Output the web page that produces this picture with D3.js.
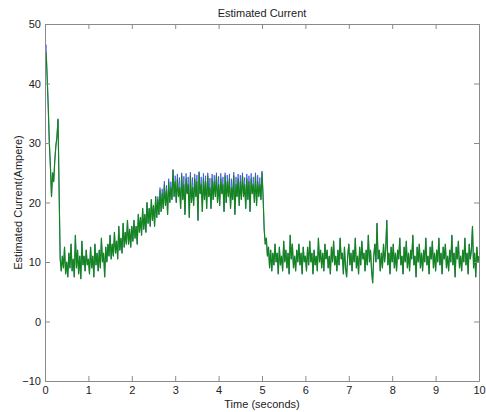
<!DOCTYPE html>
<html>
<head>
<meta charset="utf-8">
<script src="https://cdn.jsdelivr.net/npm/d3@7"></script>
<style>
  html, body { margin: 0; padding: 0; background: #fff; }
  svg { display: block; font-family: "Liberation Sans", Arial, sans-serif; }
  .axis path, .axis line { stroke: #8a8a8a; }
  .axis text { fill: #222; font-size: 11px; }
</style>
</head>
<body>
<svg id="chart" width="486" height="412"></svg>
<script>
// both traces are sampled every 0.025 s
var sampleStep = 0.025;

var xTicks = [0, 1, 2, 3, 4, 5, 6, 7, 8, 9, 10];
var yTicks = [-10, 0, 10, 20, 30, 40, 50];

// estimated current, green trace
var greenValues = [
  44.5, 45.2, 41, 36, 30, 26, 21, 25, 23.5, 27, 29.5, 31, 34, 22, 10.5, 8.5, 11, 9, 12.5, 8,
  10, 7.5, 11.5, 9, 13, 8.5, 10.5, 7.5, 14.5, 9, 12, 8, 11, 7.2, 13.5, 9.5, 11, 8.5, 12, 9.5,
  10.5, 8, 12.5, 9, 11, 7.5, 13, 9.5, 11.5, 8.5, 12, 9, 14, 10, 11.5, 7.5, 12.5, 10, 13, 11,
  14.5, 10.5, 13, 11, 15, 11.5, 13.5, 10.5, 16, 12, 14, 11.5, 16.5, 12.5, 15, 13, 17, 13, 15.5, 12.5,
  16, 13.5, 17, 14, 16, 13, 18, 15, 17.5, 14.5, 19, 15.5, 18, 15, 20, 16.5, 19, 16, 20.5, 17,
  19.5, 16, 21, 17.5, 20.5, 18, 22, 18.5, 21.5, 19, 23, 19.5, 22, 18, 23.5, 20, 22.5, 20.5, 25.5, 21,
  23.5, 20, 24, 21, 22.5, 19, 24.5, 20.5, 23, 18, 24, 21.5, 23, 17.5, 24.5, 20, 22.5, 19.5, 24, 21,
  23.5, 17, 25, 21.5, 23, 18.5, 24, 20.5, 23.5, 19, 24.5, 21, 22.5, 19, 24, 20.5, 23.5, 21, 24.5, 20,
  23, 19.5, 24, 21.5, 23, 18.5, 24.5, 20, 23.5, 21, 24, 19, 22.5, 20.5, 24.5, 18, 23, 21, 24, 19.5,
  23.5, 20.5, 24.5, 21, 23, 19, 24, 20.5, 23.5, 18.5, 24, 21.5, 23, 20, 24.5, 19.5, 23.5, 21, 23, 20.5,
  25, 21, 15.5, 13, 14, 11, 12.5, 9, 12, 8.5, 11.5, 9.5, 13, 10, 11.5, 8, 12.5, 9.5, 11, 8.5,
  13.5, 10, 12, 9, 11.5, 8, 14.5, 10.5, 13, 9, 11, 8.5, 12, 10, 13, 9.5, 11.5, 8, 12.5, 10,
  11, 8.5, 12.5, 9.5, 13.5, 10, 11.5, 8, 12, 9.5, 11, 8.5, 14, 10, 12, 9, 11.5, 8.5, 13, 10.5,
  12, 9, 11, 8, 12.5, 10, 13.5, 9.5, 11, 8.5, 12, 9.5, 14, 10.5, 11.5, 8, 12.5, 9, 7.5, 11,
  13, 9.5, 11.5, 8.5, 12, 10, 14, 9, 11, 8, 12.5, 9.5, 13.5, 10.5, 11.5, 8.5, 12, 9.5, 14.5, 10,
  12, 8.5, 6.5, 11, 13, 10, 16.5, 10.5, 12, 8.5, 11.5, 9, 13, 10, 12, 17, 9.5, 11.5, 8, 12.5,
  10, 13, 9, 11.5, 8.5, 12, 10.5, 14, 9.5, 11, 8, 12.5, 10, 13.5, 9, 11.5, 8.5, 12, 10.5, 14.5,
  9.5, 11, 7.5, 12.5, 10, 13, 9, 11.5, 8.5, 12, 10, 14, 9.5, 11, 8, 12.5, 10.5, 13.5, 9, 11.5,
  8.5, 12, 10, 14, 9.5, 11.5, 8, 12.5, 10.5, 13, 9, 11, 8.5, 12, 10, 14.5, 9.5, 11.5, 7.5, 12.5,
  10.5, 13.5, 9, 11, 8.5, 12, 10, 14, 9.5, 11.5, 8, 13, 10.5, 12, 16, 9, 11.5, 7.5, 12.5, 10,
  11
];

// estimated current, blue trace: lies under the green one except at the
// start peak and along the top of the 2.5-5 s plateau
var blueValues = [
  45, 46.5, 41, 36, 30, 26, 21, 25, 23.5, 27, 29.5, 31, 34, 22, 10.5, 8.5, 11, 9, 12.5, 8,
  10, 7.5, 11.5, 9, 13, 8.5, 10.5, 7.5, 14.5, 9, 12, 8, 11, 7.2, 13.5, 9.5, 11, 8.5, 12, 9.5,
  10.5, 8, 12.5, 9, 11, 7.5, 13, 9.5, 11.5, 8.5, 12, 9, 14, 10, 11.5, 7.5, 12.5, 10, 13, 11,
  14.5, 10.5, 13, 11, 15, 11.5, 13.5, 10.5, 16, 12, 14, 11.5, 16.5, 12.5, 15, 13, 17, 13, 15.5, 12.5,
  16, 13.5, 17, 14, 16, 13, 18, 15, 17.5, 14.5, 19, 15.5, 18, 15, 20, 16.5, 19, 16, 20.5, 17,
  19.5, 16, 21, 17.5, 21, 18, 22.5, 18.5, 22.3, 19, 23.6, 19.5, 22.9, 18, 24, 20, 23.5, 20.5, 25.5, 21,
  24.5, 20, 24.8, 21, 24.2, 19, 25, 20.5, 24.4, 18, 24.9, 21.5, 24.3, 17.5, 25.1, 20, 24.2, 19.5, 24.8, 21,
  24.6, 17, 25.2, 21.5, 24.3, 18.5, 24.9, 20.5, 24.5, 19, 25, 21, 24.1, 19, 24.8, 20.5, 24.6, 21, 25, 20,
  24.4, 19.5, 24.9, 21.5, 24.3, 18.5, 25, 20, 24.6, 21, 24.8, 19, 24, 20.5, 25.1, 18, 24.3, 21, 24.8, 19.5,
  24.6, 20.5, 25, 21, 24.2, 19, 24.8, 20.5, 24.5, 18.5, 24.9, 21.5, 24.3, 20, 25, 19.5, 24.6, 21, 24.2, 20.5,
  25.3, 21, 15.5, 13, 14, 11, 12.5, 9, 12, 8.5, 11.5, 9.5, 13, 10, 11.5, 8, 12.5, 9.5, 11, 8.5,
  13.5, 10, 12, 9, 11.5, 8, 14.5, 10.5, 13, 9, 11, 8.5, 12, 10, 13, 9.5, 11.5, 8, 12.5, 10,
  11, 8.5, 12.5, 9.5, 13.5, 10, 11.5, 8, 12, 9.5, 11, 8.5, 14, 10, 12, 9, 11.5, 8.5, 13, 10.5,
  12, 9, 11, 8, 12.5, 10, 13.5, 9.5, 11, 8.5, 12, 9.5, 14, 10.5, 11.5, 8, 12.5, 9, 7.5, 11,
  13, 9.5, 11.5, 8.5, 12, 10, 14, 9, 11, 8, 12.5, 9.5, 13.5, 10.5, 11.5, 8.5, 12, 9.5, 14.5, 10,
  12, 8.5, 6.5, 11, 13, 10, 16.5, 10.5, 12, 8.5, 11.5, 9, 13, 10, 12, 17, 9.5, 11.5, 8, 12.5,
  10, 13, 9, 11.5, 8.5, 12, 10.5, 14, 9.5, 11, 8, 12.5, 10, 13.5, 9, 11.5, 8.5, 12, 10.5, 14.5,
  9.5, 11, 7.5, 12.5, 10, 13, 9, 11.5, 8.5, 12, 10, 14, 9.5, 11, 8, 12.5, 10.5, 13.5, 9, 11.5,
  8.5, 12, 10, 14, 9.5, 11.5, 8, 12.5, 10.5, 13, 9, 11, 8.5, 12, 10, 14.5, 9.5, 11.5, 7.5, 12.5,
  10.5, 13.5, 9, 11, 8.5, 12, 10, 14, 9.5, 11.5, 8, 13, 10.5, 12, 16, 9, 11.5, 7.5, 12.5, 10,
  11
];

var svg = d3.select('#chart');
var margin = {top: 24, right: 7, bottom: 31, left: 45};
var width = 486 - margin.left - margin.right;
var height = 412 - margin.top - margin.bottom;

var x = d3.scaleLinear().domain([0, 10]).range([0, width]);
var y = d3.scaleLinear().domain([-10, 50]).range([height, 0]);

var g = svg.append('g')
    .attr('transform', 'translate(' + margin.left + ',' + margin.top + ')');

g.append('clipPath').attr('id', 'plot-area')
    .append('rect').attr('width', width).attr('height', height);

var line = d3.line()
    .x(function(d){ return x(d.t); })
    .y(function(d){ return y(d.v); });

function toPoints(values){
    return values.map(function(v, i){ return {t: i * sampleStep, v: v}; });
}

var series = [
    {name: 'blue', color: '#2a3bea', width: 0.7, points: toPoints(blueValues)},
    {name: 'green', color: '#13861a', width: 1.2, points: toPoints(greenValues)}
];

g.append('g')
    .attr('clip-path', 'url(#plot-area)')
    .selectAll('path')
    .data(series)
    .enter()
    .append('path')
    .attr('d', function(s){ return line(s.points); })
    .style('fill', 'none')
    .style('stroke', function(s){ return s.color; })
    .style('stroke-width', function(s){ return s.width; })
    .style('stroke-linejoin', 'round');

// box with inward ticks on all four sides
g.append('g').attr('class', 'axis')
    .attr('transform', 'translate(0,' + height + ')')
    .call(d3.axisBottom(x).tickValues(xTicks).tickSizeInner(-5).tickSizeOuter(0).tickPadding(5));

g.append('g').attr('class', 'axis')
    .call(d3.axisTop(x).tickValues(xTicks).tickSizeInner(-5).tickSizeOuter(0).tickFormat(''));

g.append('g').attr('class', 'axis')
    .call(d3.axisLeft(y).tickValues(yTicks).tickSizeInner(-5).tickSizeOuter(0).tickPadding(4));

g.append('g').attr('class', 'axis')
    .attr('transform', 'translate(' + width + ',0)')
    .call(d3.axisRight(y).tickValues(yTicks).tickSizeInner(-5).tickSizeOuter(0).tickFormat(''));

svg.append('text')
    .attr('x', margin.left + width / 2)
    .attr('y', 17)
    .attr('text-anchor', 'middle')
    .style('font-size', '11px')
    .style('fill', '#222')
    .text('Estimated Current');

svg.append('text')
    .attr('x', margin.left + width / 2)
    .attr('y', 408)
    .attr('text-anchor', 'middle')
    .style('font-size', '11px')
    .style('fill', '#222')
    .text('Time (seconds)');

svg.append('text')
    .attr('transform', 'translate(22,' + (margin.top + height / 2) + ') rotate(-90)')
    .attr('text-anchor', 'middle')
    .style('font-size', '11px')
    .style('fill', '#222')
    .text('Estimated Current(Ampere)');
</script>
</body>
</html>
